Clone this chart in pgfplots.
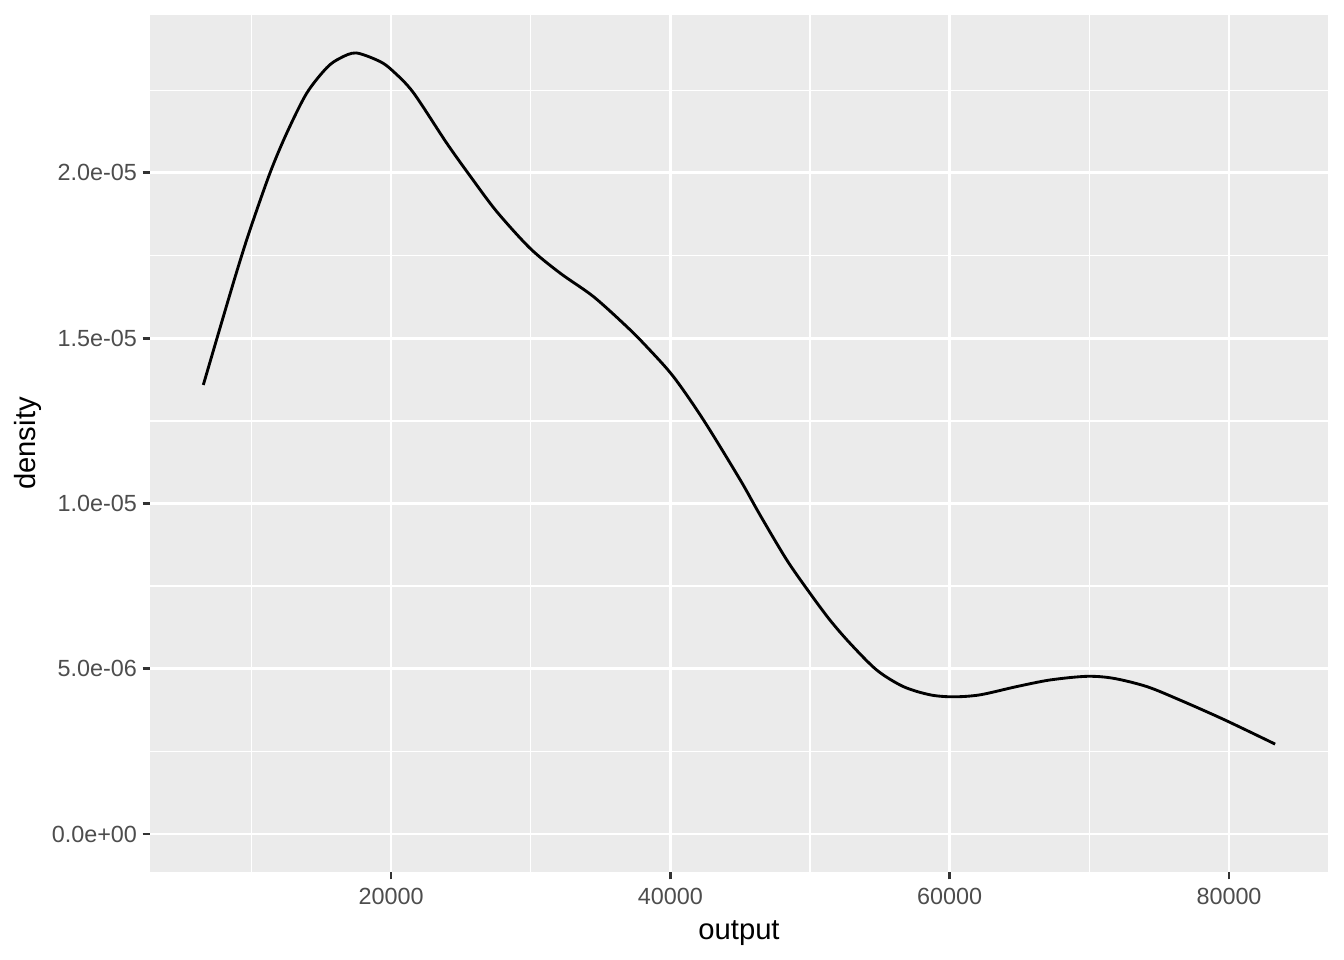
\documentclass[border=0pt]{standalone}
\usepackage{fontspec}
\setmainfont{Liberation Sans}
\usepackage{pgfplots}
\pgfplotsset{compat=1.18}
\definecolor{panelbg}{HTML}{EBEBEB}
\definecolor{ticklab}{HTML}{4D4D4D}
\definecolor{tickcol}{HTML}{333333}
\begin{document}
\begin{tikzpicture}
\useasboundingbox (-56.25bp,-33bp) rectangle (447.75bp,327bp);
\begin{axis}[
  at={(0,0)}, anchor=south west,
  width=441.75bp, height=321.4bp, scale only axis,
  xmin=2742, xmax=87089, ymin=-1.15e-6, ymax=2.478e-5,
  axis background/.style={fill=panelbg},
  axis line style={draw=none},
  grid=both,
  major grid style={white, line width=1.07bp},
  minor grid style={white, line width=0.53bp},
  xtick={20000,40000,60000,80000},
  xticklabels={20000,40000,60000,80000},
  minor xtick={10000,30000,50000,70000},
  ytick={0,5e-6,1e-5,1.5e-5,2e-5},
  yticklabels={0.0e+00,5.0e-06,1.0e-05,1.5e-05,2.0e-05},
  minor ytick={2.5e-6,7.5e-6,1.25e-5,1.75e-5,2.25e-5},
  scaled ticks=false,
  tick align=outside, tick pos=left,
  major tick length=2.75bp, minor tick length=0pt,
  tick style={tickcol, line width=1.07bp},
  ticklabel style={font=\fontsize{8.8}{10}\selectfont, text=ticklab},
  xticklabel style={inner sep=0pt, yshift=-3bp},
  yticklabel style={inner sep=0pt, xshift=-1.95bp},
  xlabel={output},
  xlabel style={font=\fontsize{11}{13}\selectfont, at={(axis description cs:0.5,0)}, anchor=center, yshift=-23bp},
  clip mode=individual,
]
\addplot[black, line width=1.07bp, smooth] coordinates {
(6559,1.3585e-5) (7755,1.531e-5) (8950,1.701e-5) (9903,1.828e-5) (11335,2.000e-5)
(12528,2.120e-5) (13960,2.241e-5) (15393,2.318e-5) (16348,2.347e-5) (17500,2.363e-5) (19212,2.337e-5)
(20165,2.307e-5) (21597,2.243e-5) (23989,2.090e-5) (25779,1.984e-5) (27569,1.883e-5)
(29954,1.772e-5) (32102,1.697e-5) (34488,1.626e-5) (36878,1.535e-5) (38310,1.474e-5)
(40214,1.384e-5) (42365,1.253e-5) (44993,1.072e-5) (46423,9.65e-6) (48337,8.29e-6)
(50003,7.28e-6) (51431,6.47e-6) (52863,5.77e-6) (54775,4.96e-6) (56680,4.46e-6)
(58600,4.21e-6) (60266,4.15e-6) (62176,4.21e-6) (64803,4.46e-6) (67190,4.66e-6)
(69816,4.77e-6) (71724,4.71e-6) (74112,4.46e-6) (76500,4.05e-6) (79700,3.45e-6)
(83300,2.72e-6)
};
\node[rotate=90, anchor=center, font=\fontsize{11}{13}\selectfont] at ([xshift=-45.75bp]rel axis cs:0,0.5) {density};
\end{axis}
\end{tikzpicture}
\end{document}
